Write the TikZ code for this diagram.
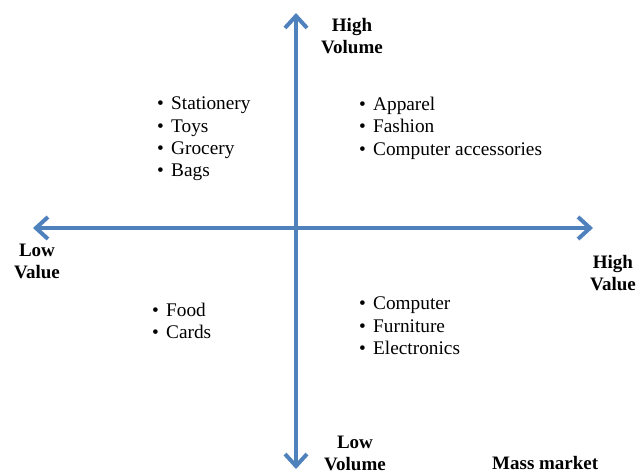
\documentclass[tikz,border=0pt]{standalone}
\usepackage{fontspec}
\setmainfont{Liberation Serif}
\usetikzlibrary{arrows.meta, positioning}

\definecolor{axisblue}{RGB}{79,129,189}
\newcommand{\itm}[1]{\makebox[14pt][l]{\textbullet}#1}

\begin{document}
\begin{tikzpicture}[x=1pt, y=-1pt, font=\fontsize{19.3}{22.3}\selectfont,
    axis/.style={draw=axisblue, line width=4pt,
      {Straight Barb[length=12pt, width=22pt]}-{Straight Barb[length=12pt, width=22pt]}},
    caption/.style={font=\fontsize{19}{22}\selectfont\bfseries, align=center, inner sep=0pt},
    items/.style={align=left, anchor=north west, inner sep=0pt}]
    \useasboundingbox (0,0) rectangle (638,474);

    % the two axes
    \coordinate (top) at (296,13);
    \coordinate (bottom) at (296,469);
    \coordinate (left) at (33,228);
    \coordinate (right) at (593,228);
    \draw[axis] (left) -- (right);
    \draw[axis] (bottom) -- (top);

    % axis captions
    \node[caption, anchor=north] (hivol) at (352,18) {High\\Volume};
    \node[caption, anchor=north] (lovol) at (355,436) {Low\\Volume};
    \node[caption, anchor=north] (loval) at (37,244) {Low\\Value};
    \node[caption, anchor=north east] (hival) at (636,255) {High\\Value};
    \node[caption, anchor=north west] (mass) at (492,456) {Mass market};

    % quadrant lists
    \node[items] (tl) at (157,97) {\itm{Stationery}\\ \itm{Toys}\\ \itm{Grocery}\\ \itm{Bags}};
    \node[items] (tr) at (359,97) {\itm{Apparel}\\ \itm{Fashion}\\ \itm{Computer accessories}};
    \node[items] (bl) at (152,303) {\itm{Food}\\ \itm{Cards}};
    \node[items] (br) at (359,297) {\itm{Computer}\\ \itm{Furniture}\\ \itm{Electronics}};
\end{tikzpicture}
\end{document}
